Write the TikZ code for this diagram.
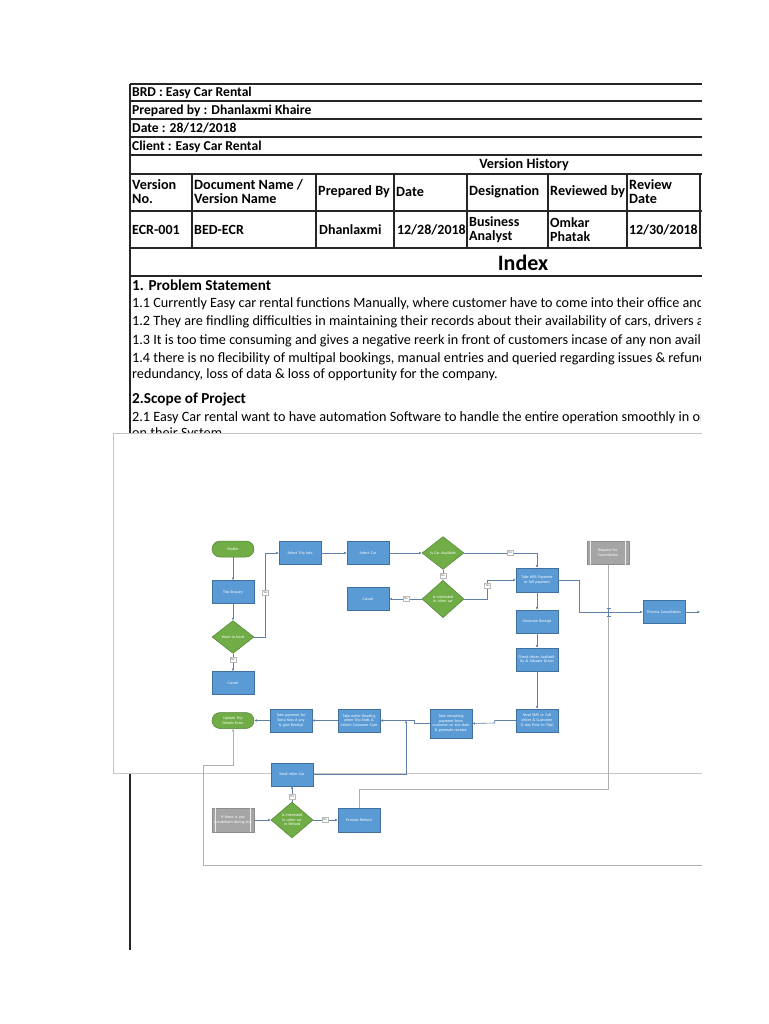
\documentclass[tikz,border=0pt]{standalone}
\usepackage{fontspec}
\setmainfont{Carlito}
\usetikzlibrary{shapes.geometric,arrows.meta}
\definecolor{bfill}{RGB}{91,155,213}
\definecolor{bline}{RGB}{65,113,156}
\definecolor{gfill}{RGB}{112,173,71}
\definecolor{gline}{RGB}{84,130,53}
\definecolor{grfill}{RGB}{165,165,165}
\definecolor{grline}{RGB}{140,140,140}
\definecolor{cblue}{RGB}{96,128,170}
\definecolor{lgray}{RGB}{175,175,175}
\begin{document}
\begin{tikzpicture}[x=1pt,y=-1pt,
  grid/.style={draw=black!85, line width=1.2pt},
  tt/.style={inner sep=0pt, anchor=west, font=\fontsize{13.6}{14}\selectfont\bfseries, align=left},
  th/.style={inner sep=0pt, anchor=west, font=\fontsize{14.2}{14}\selectfont\bfseries, align=left},
  td/.style={inner sep=0pt, anchor=west, font=\fontsize{14}{14}\selectfont\bfseries, align=left},
  bt/.style={inner sep=0pt, anchor=west, font=\fontsize{14.2}{15}\selectfont, align=left},
  bh/.style={inner sep=0pt, anchor=west, font=\fontsize{15.2}{16}\selectfont\bfseries, align=left},
  bx/.style={draw=bline, fill=bfill, line width=0.5pt, minimum width=42pt, minimum height=23pt, text width=38pt, align=center, inner sep=0.5pt, text=white, font=\fontsize{4}{4.6}\selectfont},
  gbx/.style={bx, draw=grline, fill=grfill},
  pill/.style={bx, draw=gline, fill=gfill, rounded corners=8pt, minimum height=16pt},
  dia/.style={diamond, draw=gline, fill=gfill, line width=0.5pt, minimum width=42pt, minimum height=24pt, text width=30pt, align=center, inner sep=0pt, text=white, font=\fontsize{4}{4.6}\selectfont},
  cn/.style={draw=cblue, line width=0.6pt},
  arr/.style={cn, -{Latex[length=2.6pt,width=2.6pt]}},
  gl/.style={draw=lgray, line width=0.7pt},
  lbl/.style={draw=gray!55, fill=white, inner sep=0.5pt, minimum width=6pt, minimum height=5pt, text=gray!70!black, font=\fontsize{3}{3}\selectfont}
]
\useasboundingbox (0,0) rectangle (768,1024);
\fill[white] (0,0) rectangle (768,1024);

% ---------- table ----------
\draw[grid] (130,84) -- (130,950);
\foreach \yy in {84,101,119,137,155,174,211,248,276} \draw[grid] (130,\yy) -- (702,\yy);
\foreach \xx in {192,316,394,467,548,627,700} \draw[grid] (\xx,174) -- (\xx,248);

\begin{scope}
\clip (0,0) rectangle (700,1024);
\node[tt] (brd) at (132,92.5) {BRD : Easy Car Rental};
\node[tt] (prep) at (132,110.5) {Prepared by : Dhanlaxmi Khaire};
\node[tt] (dt) at (132,128.5) {Date : 28/12/2018};
\node[tt] (cl) at (132,146.5) {Client : Easy Car Rental};
\node[th, anchor=center] (vh) at (524,164.5) {Version History};

\node[th] (h1) at (132,191.5) {Version\\No.};
\node[th] (h2) at (194,191.5) {Document Name /\\Version Name};
\node[th] (h3) at (318,191.5) {Prepared By};
\node[th] (h4) at (396,191.5) {Date};
\node[th] (h5) at (469,191.5) {Designation};
\node[th] (h6) at (550,191.5) {Reviewed by};
\node[th] (h7) at (629,191.5) {Review\\Date};

\node[td] (d1) at (132,229.5) {ECR-001};
\node[td] (d2) at (194,229.5) {BED-ECR};
\node[td] (d3) at (319,229.5) {Dhanlaxmi};
\node[td, anchor=east] (d4) at (466,229.5) {12/28/2018};
\node[td] (d5) at (469,229.5) {Business\\Analyst};
\node[td] (d6) at (550,229.5) {Omkar\\Phatak};
\node[td, anchor=east] (d7) at (698,229.5) {12/30/2018};

\node[inner sep=0pt, font=\fontsize{22}{24}\selectfont\bfseries] (idx) at (523,263) {Index};

\node[bh] (ps) at (132,285.5) {1. Problem Statement};
\node[bt] (p11) at (132,303.5) {1.1 Currently Easy car rental functions Manually, where customer have to come into their office and call};
\node[bt] (p12) at (132,321.5) {1.2 They are findling difficulties in maintaining their records about their availability of cars, drivers and};
\node[bt] (p13) at (132,340.5) {1.3 It is too time consuming and gives a negative reerk in front of customers incase of any non availability};
\node[bt] (p14) at (132,359) {1.4 there is no flecibility of multipal bookings, manual entries and queried regarding issues \& refunds};
\node[bt] (p14b) at (132,375) {redundancy, loss of data \& loss of opportunity for the company.};
\node[bh] (sp) at (132,399) {2.Scope of Project};
\node[bt] (p21) at (132,418) {2.1 Easy Car rental want to have automation Software to handle the entire operation smoothly in order};
\node[bt] (p21b) at (132,434) {on their System};
\end{scope}

% ---------- flowchart frame ----------
\fill[white] (113,433) rectangle (702,773);
\draw[gl, draw=gray!45] (702,433) -- (113,433) -- (113,773) -- (702,773);

% ---------- nodes ----------
\node[pill] (walkin) at (233,549) {Walkin};
\node[bx] (te) at (233,592) {Trip Enquiry};
\node[dia] (wb) at (233,637) {Want to book};
\node[bx] (c1) at (233,683) {Cancel};
\node[bx] (sti) at (300,553) {Select Trip Info};
\node[bx] (sc) at (368,553) {Select Car};
\node[dia] (ica) at (443,553) {Is Car Available};
\node[dia] (iio) at (443,599) {Is interested in other car};
\node[bx] (c2) at (368,599) {Cancel};
\node[bx, minimum height=24pt] (tp) at (537,580) {Take 60\% Payment or full payment};
\node[bx] (gr) at (537,621.5) {Generate Receipt};
\node[bx] (cd) at (537,659.5) {Check driver Availability \& Allocate Driver};
\node[bx] (sms) at (537,720.5) {Send SMS or Call driver \& Customer (1 day Prior to Trip)};
\node[bx, minimum height=29pt] (trp) at (451,723.5) {Take remaining payment from customer on trip date \& generate receipt.};
\node[bx] (tmr) at (359,720.5) {Take meter Reading when Trip Ends \& inform Customer Care};
\node[bx] (tpe) at (291,720.5) {Take payment for Extra Kms if any \& give Receipt};
\node[pill] (utd) at (233,720.5) {Update Trip Details Form};
\node[gbx] (rfc) at (608,553) {Request For Cancellation};
\draw[white!85!gray, line width=0.6pt] ([xshift=4pt]rfc.north west) -- ([xshift=4pt]rfc.south west)
  ([xshift=-4pt]rfc.north east) -- ([xshift=-4pt]rfc.south east);
\node[bx] (pc) at (664,612) {Process Cancellation};
\node[bx] (soc) at (292,774.5) {Send other Car};
\node[gbx, minimum height=24pt] (bd) at (233,820) {If there is any Breakdown during trip};
\draw[white!85!gray, line width=0.6pt] ([xshift=4pt]bd.north west) -- ([xshift=4pt]bd.south west)
  ([xshift=-4pt]bd.north east) -- ([xshift=-4pt]bd.south east);
\node[dia, minimum height=25pt, text width=24pt] (ioc) at (292,820) {Is interested in other car or Refund};
\node[bx, minimum height=24pt] (pr) at (359,820) {Process Refund};

\coordinate (pcend) at (700,612);
\coordinate (j1) at (406,720.5);
\coordinate (lpstart) at (702,865);
\coordinate (lpturn) at (203,765);
\coordinate (rfturn) at (359,789);

% ---------- long gray lines ----------
\draw[gl] (rfc.south) |- (rfturn) -- (pr.north);
\draw[arr, draw=lgray] (lpstart) -| (lpturn) -| (utd.south);

% ---------- connectors ----------
\draw[arr] (walkin.south) -- (te.north);
\draw[arr] (te.south) -- (wb.north);
\draw[arr] (wb.south) -- (c1.north);
\node[lbl] (no1) at (233,660) {No};
\draw[arr] (wb.east) -- ++(11,0) |- (sti.west);
\node[lbl] (yes1) at (265.5,593) {Yes};
\draw[arr] (sti.east) -- (sc.west);
\draw[arr] (sc.east) -- (ica.west);
\draw[arr] (ica.east) -| (tp.north);
\node[lbl] (yes2) at (510,553) {Yes};
\draw[arr] (ica.south) -- (iio.north);
\node[lbl] (no2) at (443,575.5) {No};
\draw[arr] (iio.west) -- (c2.east);
\node[lbl] (no3) at (406,599) {No};
\draw[arr] (iio.east) -- ++(23,0) |- (tp.west);
\node[lbl] (yes3) at (487.5,586) {Yes};
\draw[arr] (tp.south) -- (gr.north);
\draw[arr] (gr.south) -- (cd.north);
\draw[arr] (cd.south) -- (sms.north);
\draw[arr] (tp.east) -- ++(21,0) |- (pc.west);
\draw[arr] (pc.east) -- (pcend);
% line hop marker
\draw[cn, line width=0.8pt] (608.5,608.5) -- (608.5,616) (606.5,608.5) -- (610.5,608.5) (606.5,616) -- (610.5,616);
\draw[arr] (sms.west) -- ++(-21,0) -- ++(0,2.5) -- (trp.east);
\draw[arr] (trp.west) -- ++(-15,0) -- ++(0,-3) -- (tmr.east);
\draw[arr] (soc.east) -| (j1);
\draw[arr] (tmr.west) -- (tpe.east);
\draw[arr] (tpe.west) -- (utd.east);
\draw[arr] (bd.east) -- (ioc.west);
\draw[arr] (ioc.north) -- (soc.south);
\node[lbl] (yes4) at (292,797) {Yes};
\draw[arr] (ioc.east) -- (pr.west);
\node[lbl] (no4) at (325,820) {No};
\end{tikzpicture}
\end{document}
